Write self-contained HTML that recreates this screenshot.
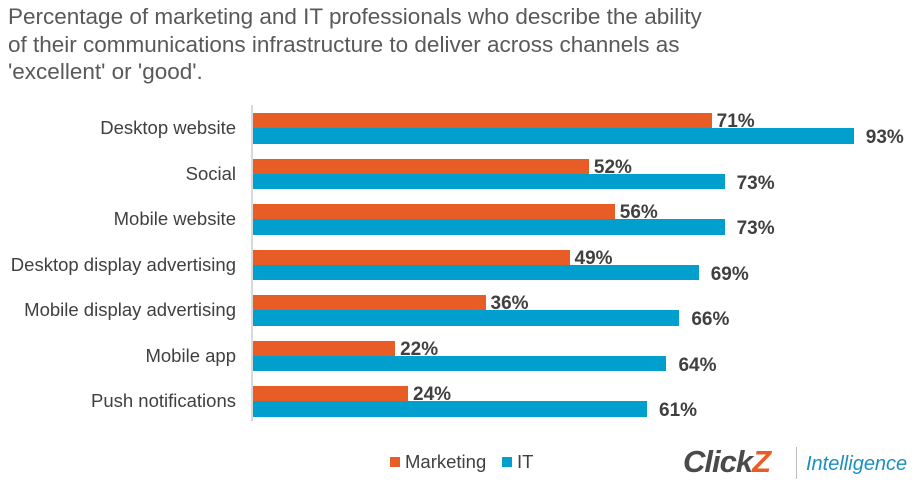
<!DOCTYPE html>
<html><head><style>
body{margin:0;width:918px;height:490px;background:#fff;font-family:"Liberation Sans",sans-serif;overflow:hidden;position:relative}
.t{position:absolute;left:8px;top:3px;font-size:22.5px;line-height:27.5px;color:#595959}
.c{position:absolute;right:682px;font-size:18.5px;color:#404040;white-space:nowrap}
.b{position:absolute;left:253px;height:15px}
.o{background:#E85D25}.bl{background:#009FCE}
.v{position:absolute;font-size:19px;font-weight:bold;color:#404040}
</style></head><body>
<div class="t">Percentage of marketing and IT professionals who describe the ability<br>of their communications infrastructure to deliver across channels as<br>'excellent' or 'good'.</div>
<div style="position:absolute;left:251px;top:105px;width:2px;height:316px;background:#d9d9d9"></div>
<div id="ch"></div>
<div style="position:absolute;left:390px;top:457px;width:10px;height:10px;background:#E85D25"></div>
<div style="position:absolute;left:405px;top:451px;font-size:18.5px;color:#404040">Marketing</div>
<div style="position:absolute;left:502px;top:457px;width:10px;height:10px;background:#009FCE"></div>
<div style="position:absolute;left:517px;top:451px;font-size:18.5px;color:#404040">IT</div>
<div style="position:absolute;left:683px;top:444px;font-size:31px;font-weight:bold;font-style:italic;color:#4a4a4a;letter-spacing:-1px">Click<span style="color:#E85D25">Z</span></div>
<div style="position:absolute;left:796px;top:447px;width:1px;height:32px;background:#bbb"></div>
<div style="position:absolute;left:806px;top:453px;font-size:20px;font-style:italic;color:#1a8fc0">Intelligence</div>
<script>
var d=[["Desktop website",71,93],["Social",52,73],["Mobile website",56,73],["Desktop display advertising",49,69],["Mobile display advertising",36,66],["Mobile app",22,64],["Push notifications",24,61]];
var h="",s=6.46;
d.forEach(function(r,i){var y=113+i*45.5;
h+='<div class="c" style="top:'+(y+4)+'px">'+r[0]+'</div>';
h+='<div class="b o" style="top:'+y+'px;width:'+(r[1]*s)+'px"></div>';
h+='<div class="b bl" style="top:'+(y+15)+'px;width:'+(r[2]*s)+'px;height:15.5px"></div>';
h+='<div class="v" style="top:'+(y-2)+'px;left:'+(258+r[1]*s)+'px">'+r[1]+'%</div>';
h+='<div class="v" style="top:'+(y+14)+'px;left:'+(265+r[2]*s)+'px">'+r[2]+'%</div>';});
document.getElementById("ch").innerHTML=h;
</script>
</body></html>
